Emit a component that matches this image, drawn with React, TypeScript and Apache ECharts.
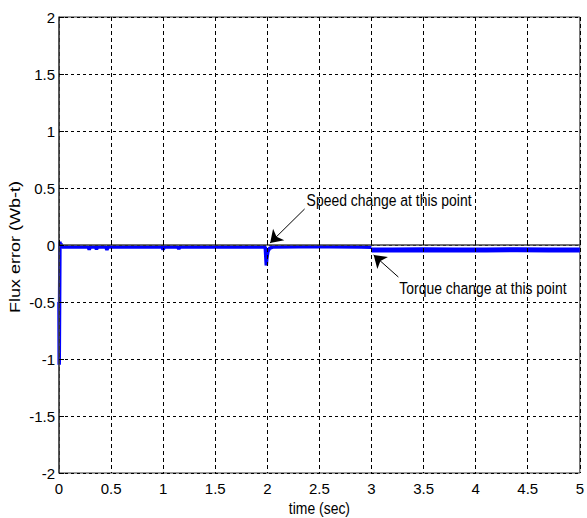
import React, { useEffect, useRef } from "react";
import * as echarts from "echarts";

// time (s) and flux error (Wb-t)
const timeA = [0, 0.002, 0.005, 0.009, 0.013, 0.02, 0.03, 0.1, 0.28, 0.29, 0.3, 0.35, 0.36, 0.37, 0.45, 0.46, 0.47, 0.7, 0.99, 1.0, 1.01, 1.14, 1.15, 1.16, 1.5, 1.8, 1.98, 1.99, 1.995, 2.005, 2.02, 2.05, 2.3, 2.6, 2.9, 3.0];
const fluxA = [-0.5, -1.05, -0.6, 0.03, -0.01, 0.01, -0.018, -0.018, -0.018, -0.04, -0.018, -0.018, -0.038, -0.018, -0.018, -0.042, -0.018, -0.018, -0.018, -0.04, -0.018, -0.018, -0.035, -0.018, -0.018, -0.018, -0.018, -0.18, -0.12, -0.06, -0.03, -0.018, -0.016, -0.016, -0.018, -0.02];
const timeB = [3.0, 3.2, 3.5, 3.8, 4.1, 4.4, 4.7, 5.0];
const fluxB = [-0.043, -0.043, -0.042, -0.043, -0.043, -0.042, -0.043, -0.043];

const xTicks = [0, 0.5, 1, 1.5, 2, 2.5, 3, 3.5, 4, 4.5, 5];
const yTicks = [-2, -1.5, -1, -0.5, 0, 0.5, 1, 1.5, 2];

const xName = "time (sec)";
const yName = "Flux error (Wb-t)";
// annotations: text anchor (t, y), arrow start (t, y), arrow end (t, y)
const speedNote = { text: "Speed change at this point", at: [2.377, 0.395], from: [2.358, 0.316], to: [2.027, 0.018] };
const torqueNote = { text: "Torque change at this point", at: [3.267, -0.377], from: [3.258, -0.281], to: [3.021, -0.088] };

const SANS = '"Liberation Sans", Arial, Helvetica, sans-serif';
const SQUASH = 0.82;

export default function App() {
  const ref = useRef<HTMLDivElement>(null);
  useEffect(() => {
    if (!ref.current) return;
    const chart = echarts.init(ref.current, null, { renderer: "svg" });
    const gridDash = (dash: number[]) => ({ show: true, lineStyle: { color: "#000", width: 1, type: dash } });
    chart.setOption({
      animation: false,
      backgroundColor: "#fff",
      grid: { left: 59, top: 17, right: 0, bottom: 45, show: true, borderColor: "#333", borderWidth: 1 },
      xAxis: {
        type: "value",
        min: 0,
        max: 5,
        interval: 0.5,
        z: 3,
        axisLine: { show: true, lineStyle: { color: "#444", width: 1.5 } },
        axisTick: { show: true, inside: true, length: 5, lineStyle: { color: "#000" } },
        axisLabel: {
          color: "#000",
          fontFamily: SANS,
          fontSize: 15,
          margin: 8,
          formatter: (v: number) => (xTicks.includes(v) ? String(v) : ""),
        },
        splitLine: gridDash([4, 3]),
      },
      yAxis: {
        type: "value",
        min: -2,
        max: 2,
        interval: 0.5,
        z: 3,
        axisLine: { show: true, lineStyle: { color: "#444", width: 1.5 } },
        axisTick: { show: true, inside: true, length: 5, lineStyle: { color: "#000" } },
        axisLabel: {
          color: "#000",
          fontFamily: SANS,
          fontSize: 15,
          margin: 4,
          formatter: (v: number) => (yTicks.includes(v) ? String(v) : ""),
        },
        splitLine: gridDash([3, 3]),
      },
      series: [
        {
          type: "line",
          z: 1,
          data: timeA.map((t, i) => [t, fluxA[i]]),
          showSymbol: false,
          lineStyle: { color: "#0000ff", width: 3.5 },
          markLine: {
            silent: true,
            symbol: ["none", "arrow"],
            symbolSize: 12,
            label: { show: false },
            lineStyle: { color: "#000", width: 1, type: "solid" },
            itemStyle: { color: "#000" },
            data: [
              [{ coord: speedNote.from }, { coord: speedNote.to }],
              [{ coord: torqueNote.from }, { coord: torqueNote.to }],
            ],
          },
        },
        {
          type: "line",
          z: 1,
          data: timeB.map((t, i) => [t, fluxB[i]]),
          showSymbol: false,
          lineStyle: { color: "#0000ff", width: 5 },
        },
      ],
    });

    const px = (c: number[]) => chart.convertToPixel({ gridIndex: 0 }, c) as number[];
    const note = (n: typeof speedNote) => {
      const p = px(n.at);
      return {
        type: "text",
        x: p[0],
        y: p[1],
        scaleX: SQUASH,
        z: 10,
        style: { text: n.text, fill: "#000", font: `17px ${SANS}`, textAlign: "left", textVerticalAlign: "middle" },
      };
    };
    const left = px([0, 0])[0];
    const right = px([5, 0])[0];
    const top = px([0, 2])[1];
    const bottom = px([0, -2])[1];
    chart.setOption({
      graphic: [
        note(speedNote),
        note(torqueNote),
        {
          type: "text",
          x: (left + right) / 2,
          y: bottom + 35,
          scaleX: SQUASH,
          style: { text: xName, fill: "#000", font: `17px ${SANS}`, textAlign: "center", textVerticalAlign: "middle" },
        },
        {
          type: "text",
          x: 15,
          y: (top + bottom) / 2 + 2,
          rotation: Math.PI / 2,
          scaleY: 0.8,
          style: { text: yName, fill: "#000", font: `18px ${SANS}`, textAlign: "center", textVerticalAlign: "middle" },
        },
      ],
    });
    return () => chart.dispose();
  }, []);
  return <div ref={ref} style={{ position: "fixed", left: 0, top: 0, width: 587, height: 518 }} />;
}
